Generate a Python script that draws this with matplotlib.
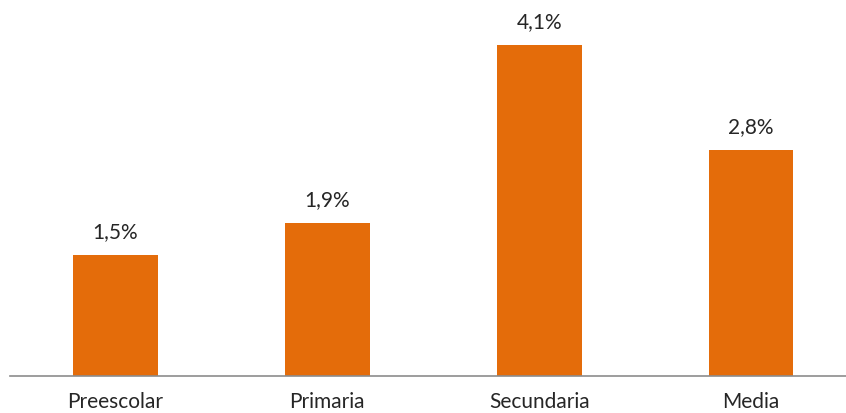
import matplotlib
matplotlib.use("Agg")
import matplotlib.pyplot as plt

categories = ["Preescolar", "Primaria", "Secundaria", "Media"]
values = [1.5, 1.9, 4.1, 2.8]
labels = ["1,5%", "1,9%", "4,1%", "2,8%"]

plt.rcParams['font.family'] = ['Lato', 'DejaVu Sans']

fig = plt.figure(figsize=(8.46, 4.14), dpi=100)
ax = fig.add_axes([10 / 846, 1 - 377 / 414, 836 / 846, 377 / 414])

x = range(len(categories))
bars = ax.bar(x, values, width=0.4, color="#E46C0A")
for b, lab in zip(bars, labels):
    ax.annotate(lab, (b.get_x() + b.get_width() / 2, b.get_height()),
                xytext=(0, 10), textcoords="offset points",
                ha="center", va="bottom", fontsize=15, color="#262626")

ax.set_xlim(-0.498, 3.448)
ax.set_ylim(0, 4.67)
ax.set_xticks(list(x))
ax.set_xticklabels(categories, fontsize=15, color="#262626")
ax.tick_params(axis="x", length=0, pad=11)
ax.set_yticks([])
for s in ["top", "right", "left"]:
    ax.spines[s].set_visible(False)
ax.spines["bottom"].set_color("#8c8c8c")
ax.spines["bottom"].set_linewidth(1.2)

fig.savefig("out.png", dpi=100)
